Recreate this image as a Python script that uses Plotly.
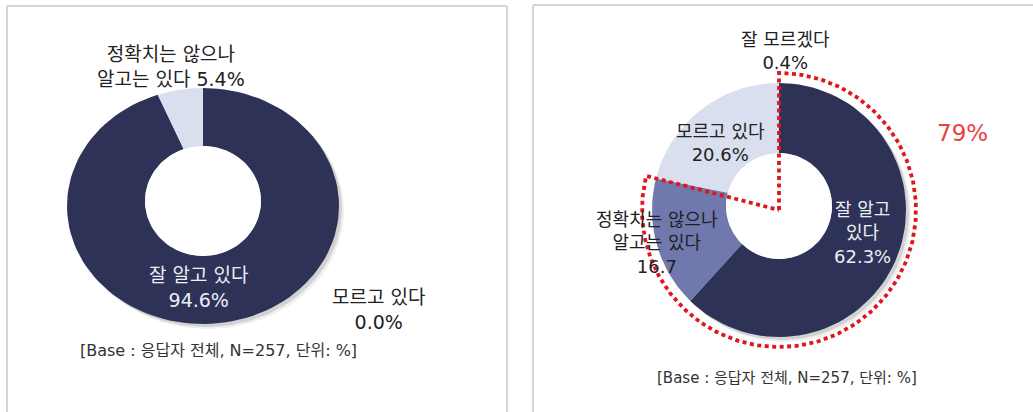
import numpy as np
import plotly.graph_objects as go

# ---- data ----
left_labels = ["잘 알고 있다", "정확치는 않으나 알고는 있다", "모르고 있다"]
left_values = [94.6, 5.4, 0.0]

right_labels = ["잘 알고 있다", "정확치는 않으나 알고는 있다", "모르고 있다", "잘 모르겠다"]
right_values = [62.3, 16.7, 20.6, 0.4]
right_highlight = 79  # share of respondents who know (fully + roughly)

note_text = "[Base : 응답자 전체, N=257, 단위: %]"

# ---- styling ----
W, H = 1033, 412
FONT = "DejaVu Sans, Noto Sans CJK KR"
NAVY = "#2e3257"
MID = "#7078ad"
LIGHT = "#d9dfee"
RED = "#e0161f"
BORDER = "#d6d6d6"

left_colors = [NAVY, LIGHT, LIGHT]
right_colors = [NAVY, MID, LIGHT, LIGHT]

# donut geometry (pixel-like coordinates on the hidden axes)
L_CX, L_CY, L_RX, L_RY, L_HX, L_HY, L_HCY = 203, 206, 136, 118, 58, 55, 201
R_CX, R_CY, R_R, R_H, R_HCY = 779, 210, 127, 53, 206
RED_R = 137


def wedge(cx, cy, rx, ry, hx, hy, hcy, a0, a1, n=120):
    t = np.linspace(a0, a1, max(int(n * (a1 - a0) / (2 * np.pi)) + 2, 3))
    xo = cx + rx * np.sin(t)
    yo = cy - ry * np.cos(t)
    xi = cx + hx * np.sin(t[::-1])
    yi = hcy - hy * np.cos(t[::-1])
    return np.r_[xo, xi, xo[:1]], np.r_[yo, yi, yo[:1]]


def donut(values, colors, cx, cy, rx, ry, hx, hy, hcy, labels):
    traces = []
    total = sum(values)
    acc = 0.0
    for v, c, lab in zip(values, colors, labels):
        if v <= 0:
            continue
        a0 = 2 * np.pi * acc / total
        acc += v
        a1 = 2 * np.pi * acc / total
        x, y = wedge(cx, cy, rx, ry, hx, hy, hcy, a0, a1)
        traces.append(go.Scatter(x=x, y=y, fill="toself", fillcolor=c,
                                 line=dict(width=0, color=c), mode="lines",
                                 name=lab, hoverinfo="name"))
    return traces


def shadow(cx, cy, rx, ry, dx, dy, alpha):
    t = np.linspace(0, 2 * np.pi, 160)
    return go.Scatter(x=cx + dx + rx * np.sin(t), y=cy + dy - ry * np.cos(t),
                      fill="toself", fillcolor=f"rgba(0,0,0,{alpha})",
                      line=dict(width=0), mode="lines", hoverinfo="skip")


fig = go.Figure()

# soft drop shadows
for d, a in [(5, 0.06), (3, 0.12)]:
    fig.add_trace(shadow(L_CX, L_CY, L_RX, L_RY, d, d, a))
    fig.add_trace(shadow(R_CX, R_CY, R_R, R_R, d, d, a))

for tr in donut(left_values, left_colors, L_CX, L_CY, L_RX, L_RY, L_HX, L_HY, L_HCY, left_labels):
    fig.add_trace(tr)
for tr in donut(right_values, right_colors, R_CX, R_CY, R_R, R_R, R_H, R_H, R_HCY, right_labels):
    fig.add_trace(tr)

# white holes (cover the shadow inside)
for cx, cy, hx, hy in [(L_CX, L_HCY, L_HX, L_HY), (R_CX, R_HCY, R_H, R_H)]:
    t = np.linspace(0, 2 * np.pi, 120)
    fig.add_trace(go.Scatter(x=cx + hx * np.sin(t), y=cy - hy * np.cos(t), fill="toself",
                             fillcolor="white", line=dict(width=0), mode="lines",
                             hoverinfo="skip"))

# dotted outline around the combined "know" share
a_end = 2 * np.pi * right_highlight / 100
t = np.linspace(0, a_end, 200)
ox = np.r_[R_CX, R_CX + RED_R * np.sin(t), R_CX]
oy = np.r_[R_CY, R_CY - RED_R * np.cos(t), R_CY]
fig.add_trace(go.Scatter(x=ox, y=oy, mode="lines", hoverinfo="skip",
                         line=dict(color=RED, width=3.8, dash="4px,3.5px")))

# panel frames
for x0, y0, x1, y1 in [(7, 6, 7, H), (7, 6, 507, 6), (507, 6, 507, H),
                       (533, 5, 533, H), (533, 5, W, 5)]:
    fig.add_shape(type="line", x0=x0, y0=y0, x1=x1, y1=y1, xref="x", yref="y",
                  line=dict(color=BORDER, width=2))


def txt(x, y, s, size=17, color="#222222", weight="normal", family=FONT):
    fig.add_annotation(x=x, y=y, xref="x", yref="y", text=s, showarrow=False,
                       font=dict(family=family, size=size, color=color, weight=weight),
                       xanchor="center", yanchor="middle")


def pct(v):
    return f"{v:.1f}%"


# left panel labels
txt(171, 66, f"정확치는 않으나<br>알고는 있다 {pct(left_values[1])}", size=19)
txt(198, 287, f"{left_labels[0]}<br>{pct(left_values[0])}", size=19, color="#eceef5")
txt(378, 309, f"{left_labels[2]}<br>{pct(left_values[2])}", size=19)
txt(218, 350, note_text, size=16, color="#333333")

# right panel labels
txt(785, 51, f"{right_labels[3]}<br>{pct(right_values[3])}", size=18)
txt(720, 143, f"{right_labels[2]}<br>{pct(right_values[2])}", size=18)
txt(657, 243, f"정확치는 않으나<br>알고는 있다<br>{right_values[1]:.1f}", size=18)
txt(862, 233, f"잘 알고<br>있다<br>{pct(right_values[0])}", size=18, color="#eceef5")
txt(962, 133, f"{right_highlight}%", size=23, color="#e8413f")
txt(787, 378, note_text, size=15, color="#333333")

fig.update_layout(
    width=W, height=H, margin=dict(l=0, r=0, t=0, b=0),
    paper_bgcolor="white", plot_bgcolor="white", showlegend=False,
    xaxis=dict(range=[0, W], visible=False, fixedrange=True),
    yaxis=dict(range=[H, 0], visible=False, fixedrange=True),
)

fig.write_html("out.html")
